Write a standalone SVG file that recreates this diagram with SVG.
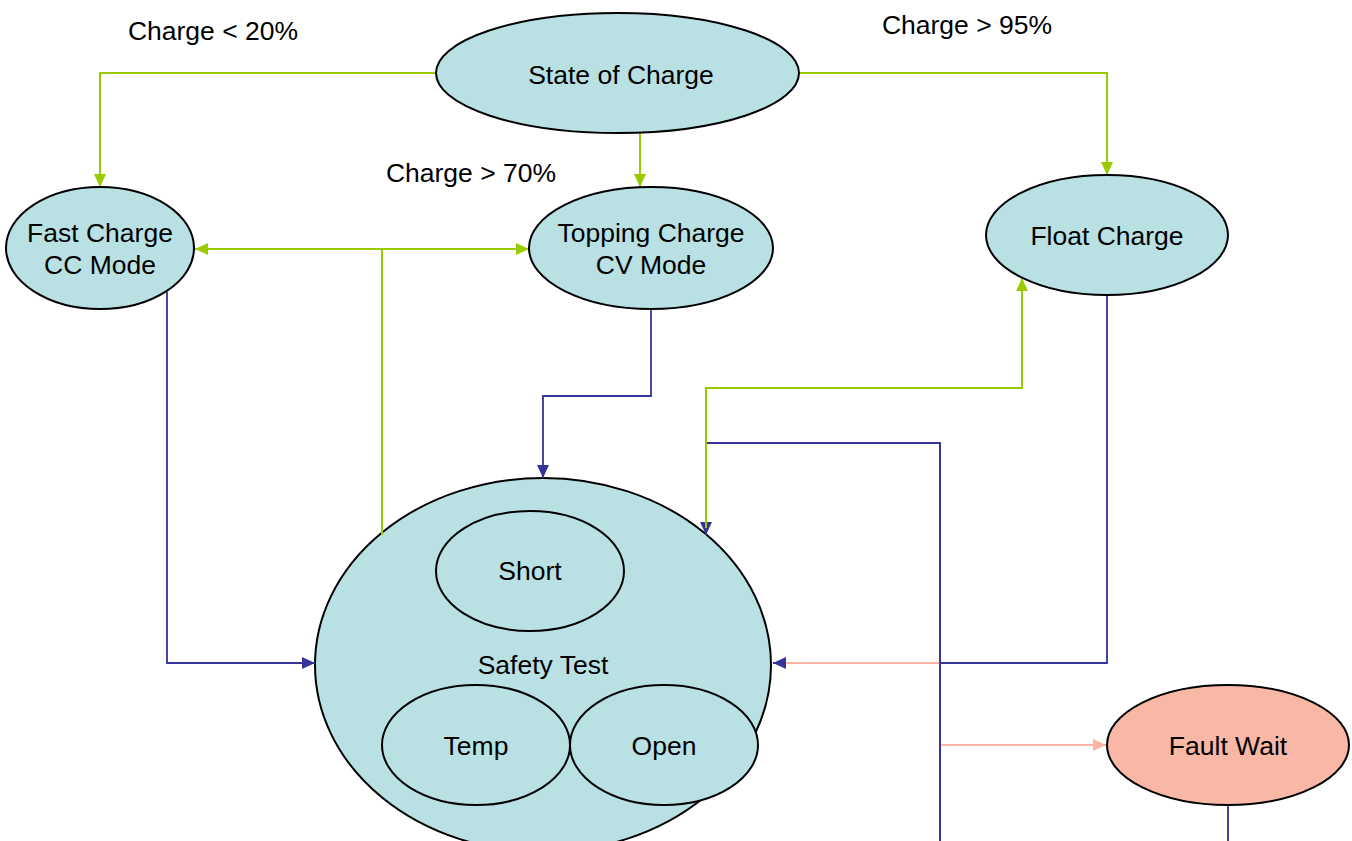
<svg xmlns="http://www.w3.org/2000/svg" width="1352" height="841" viewBox="0 0 1352 841">
<defs>
<marker id="ag" viewBox="0 0 13 12" refX="13" refY="6" markerWidth="13" markerHeight="12" markerUnits="userSpaceOnUse" orient="auto"><path d="M0,0 L13,6 L0,12 Z" fill="#99CC00"/></marker>
<marker id="ab" viewBox="0 0 13 12" refX="13" refY="6" markerWidth="13" markerHeight="12" markerUnits="userSpaceOnUse" orient="auto"><path d="M0,0 L13,6 L0,12 Z" fill="#333399"/></marker>
<marker id="as" viewBox="0 0 13 12" refX="13" refY="6" markerWidth="13" markerHeight="12" markerUnits="userSpaceOnUse" orient="auto"><path d="M0,0 L13,6 L0,12 Z" fill="#F9B5A2"/></marker>
</defs>
<style>
.n{fill:#B9E1E3;stroke:#000;stroke-width:2}
.f{fill:#F9B8A6;stroke:#000;stroke-width:2}
.g{fill:none;stroke:#99CC00;stroke-width:2}
.b{fill:none;stroke:#333399;stroke-width:1.8}
.s{fill:none;stroke:#F9B5A2;stroke-width:2}
text{font-family:"Liberation Sans",Arial,sans-serif;font-size:26.5px;fill:#000;text-anchor:middle}
</style>
<rect width="1352" height="841" fill="#fff"/>
<g id="safety">
<ellipse class="n" cx="543" cy="665" rx="228" ry="187"/>
<text x="543" y="674">Safety Test</text>
</g>
<g id="connectors">
<path class="g" d="M436,73 H100 V187" marker-end="url(#ag)"/>
<path class="g" d="M640,133 V187" marker-end="url(#ag)"/>
<path class="g" d="M799,73 H1107 V175" marker-end="url(#ag)"/>
<path class="g" d="M382,535 V249"/>
<path class="g" d="M382,249 H195" marker-end="url(#ag)"/>
<path class="g" d="M382,249 H529" marker-end="url(#ag)"/>
<path class="b" d="M167,292 V663 H315" marker-end="url(#ab)"/>
<path class="b" d="M651,309 V396 H543 V478" marker-end="url(#ab)"/>
<path class="b" d="M1107,296 V663 H773" marker-end="url(#ab)"/>
<path class="b" d="M940,841 V443 H706 V535" marker-end="url(#ab)"/>
<path class="g" d="M706,528 V388 H1022 V278" marker-end="url(#ag)"/>
<path class="s" d="M940,663 H786"/>
<path class="s" d="M940,745 H1106" marker-end="url(#as)"/>
<path class="b" d="M940,841 V443"/>
<path class="b" d="M1228,805 V841"/>
</g>
<g id="soc">
<ellipse class="n" cx="617.5" cy="73" rx="181.5" ry="60"/>
<text x="621" y="84">State of Charge</text>
</g>
<g id="fast">
<ellipse class="n" cx="100" cy="248" rx="94" ry="61"/>
<text x="100" y="242">Fast Charge</text>
<text x="100" y="274">CC Mode</text>
</g>
<g id="topping">
<ellipse class="n" cx="651" cy="248" rx="122" ry="61"/>
<text x="651" y="242">Topping Charge</text>
<text x="651" y="274">CV Mode</text>
</g>
<g id="float">
<ellipse class="n" cx="1107" cy="235" rx="121" ry="60"/>
<text x="1107" y="245">Float Charge</text>
</g>
<g id="short">
<ellipse class="n" cx="530" cy="571" rx="94" ry="60"/>
<text x="530" y="580">Short</text>
</g>
<g id="temp">
<ellipse class="n" cx="476" cy="745" rx="94" ry="60"/>
<text x="476" y="755">Temp</text>
</g>
<g id="open">
<ellipse class="n" cx="664" cy="745" rx="94" ry="60"/>
<text x="664" y="755">Open</text>
</g>
<g id="fault">
<ellipse class="f" cx="1228" cy="745" rx="121" ry="60"/>
<text x="1228" y="755">Fault Wait</text>
</g>
<g id="labels">
<text x="213" y="40">Charge &lt; 20%</text>
<text x="967" y="34">Charge &gt; 95%</text>
<text x="471" y="182">Charge &gt; 70%</text>
</g>
</svg>
